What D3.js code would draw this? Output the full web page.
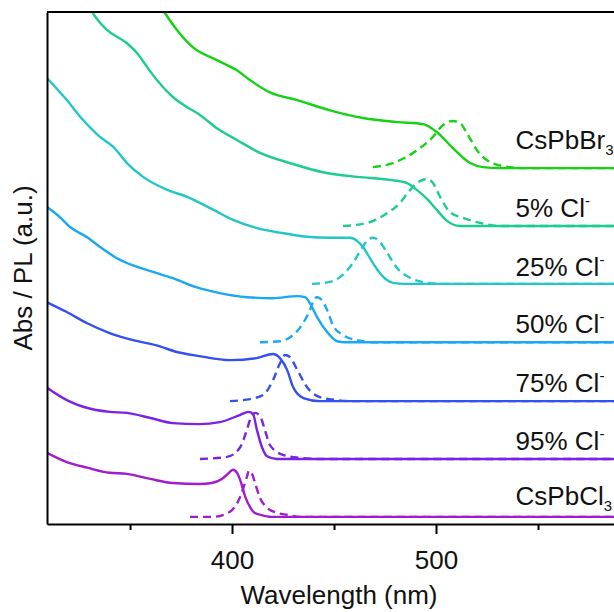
<!DOCTYPE html>
<html>
<head>
<meta charset="utf-8">
<script src="https://cdn.jsdelivr.net/npm/d3@7"></script>
<style>
  body { margin: 0; background: #fff; }
  text { font-family: "Liberation Sans", Arial, sans-serif; fill: #111; }
</style>
</head>
<body>
<div id="chart"></div>
<script>
var width = 614, height = 612;
var margin = {top: 12, right: -26, bottom: 88, left: 47};

// sample names, bottom to top
var sampleNames = ["CsPbCl3", "95% Cl", "75% Cl", "50% Cl", "25% Cl", "5% Cl", "CsPbBr3"];
var sampleColors = ["#a31ccc", "#7a22e6", "#3450ee", "#1aa8f5", "#21c6c6", "#1dcc94", "#14d214"];
// vertical stacking offset of each sample (a.u.)
var baselineOffsets = [0.14, 1.27, 2.40, 3.55, 4.69, 5.82, 6.95];
var labelLift = [0.23, 0.18, 0.18, 0.18, 0.16, 0.18, 0.38];
var labelWavelength = 539;

// absorption spectra [nm, a.u. above baseline]
var absCl3 = [[309.3,1.25],[319,1.07],[329,0.96],[340,0.86],[348.5,0.84],[360,0.74],[371,0.66],[384,0.64],[390,0.66],[395,0.74],[398,0.84],[400.5,0.92],[402.5,0.86],[404,0.72],[406.5,0.39],[409,0.18],[411,0.08],[414,0.04],[419,0],[600,0]];
var abs95 = [[309.3,1.39],[319,1.15],[327,1.02],[340,0.92],[348.5,0.90],[360,0.80],[371,0.70],[384,0.68],[394,0.72],[404,0.86],[408,0.92],[410.3,0.88],[412.2,0.57],[414.7,0.23],[417,0.06],[422,0],[600,0]];
var abs75 = [[309.3,1.93],[319,1.74],[329,1.52],[340,1.33],[351.5,1.19],[363,1.09],[373,0.96],[384,0.88],[399,0.80],[412,0.84],[420,0.92],[423.5,0.84],[427,0.61],[430,0.27],[435,0.06],[443,0],[600,0]];
var abs50 = [[309.3,2.64],[315.7,2.44],[320.6,2.25],[329,2.05],[335.3,1.86],[343.6,1.64],[351.5,1.50],[360,1.39],[371,1.25],[382.8,1.07],[394,0.96],[407.3,0.88],[420,0.86],[432,0.90],[435.8,0.88],[438.2,0.76],[441.7,0.49],[446.6,0.20],[451.5,0.02],[455.4,0],[600,0]];
var abs25 = [[309.3,4.02],[319,3.59],[327,3.20],[335.3,2.87],[341.7,2.68],[348.5,2.36],[356.4,2.09],[368,1.84],[378,1.70],[390.7,1.45],[400.5,1.25],[412.2,1.09],[423.5,1.00],[436.8,0.92],[448,0.90],[457.8,0.90],[461.3,0.84],[464.2,0.72],[469,0.41],[474,0.14],[479,0.02],[484.8,0],[600,0]];
var abs5 = [[328,4.45],[331.8,4.16],[338.7,3.83],[348.5,3.57],[353.4,3.38],[358.3,3.11],[363.2,2.85],[371,2.52],[378,2.32],[384.3,2.17],[392.6,1.91],[402.4,1.68],[413.7,1.43],[428.4,1.23],[444.6,1.05],[461.3,0.96],[477.4,0.90],[485.8,0.84],[490.7,0.70],[495.6,0.53],[500.5,0.31],[505.4,0.10],[511.8,0],[600,0]];
var absBr3 = [[363.7,3.25],[367.1,3.03],[373,2.70],[380.9,2.36],[392.6,2.11],[402.4,1.91],[408.8,1.72],[418.6,1.48],[431.9,1.33],[448,1.13],[464.2,0.98],[480.9,0.90],[493.6,0.86],[500.5,0.70],[508.3,0.39],[516.7,0.10],[523,0.02],[531.4,0],[600,0]];

// PL spectra [nm, a.u. above baseline]
var plCl3 = [[379.4,0],[390.7,0],[399,0.10],[404,0.39],[407.3,0.78],[408.3,0.90],[409.8,0.84],[411.3,0.66],[413.7,0.37],[417.1,0.18],[422,0.08],[427,0.04],[433.3,0],[600,0]];
var pl95 = [[384.3,0],[397.5,0.04],[404,0.23],[407.3,0.57],[408.8,0.76],[411.3,0.90],[413.7,0.84],[416.1,0.57],[418.6,0.27],[425,0.08],[433.3,0.02],[443,0],[600,0]];
var pl75 = [[399,0],[408.8,0.04],[415.2,0.12],[420.1,0.41],[423.5,0.74],[426,0.90],[428.4,0.86],[432,0.61],[436.8,0.27],[443,0.08],[451.5,0.02],[458,0],[600,0]];
var pl50 = [[413.7,0],[423.5,0.02],[429.9,0.14],[434.8,0.37],[438.2,0.63],[440.7,0.86],[441.7,0.88],[444.1,0.82],[446.6,0.63],[449.5,0.33],[454.4,0.14],[461.3,0.04],[469,0],[600,0]];
var pl25 = [[439.2,0],[448,0.04],[454.4,0.18],[459.3,0.41],[463.7,0.70],[466.7,0.86],[469.1,0.90],[472.5,0.82],[476,0.61],[480.9,0.31],[487.2,0.12],[495.6,0.02],[502,0],[600,0]];
var pl5 = [[454.4,0],[466.2,0.06],[476,0.25],[482.3,0.45],[487.2,0.70],[490.7,0.84],[495.6,0.92],[498.5,0.84],[502,0.57],[506.9,0.27],[513.2,0.16],[521.6,0.06],[531.4,0],[600,0]];
var plBr3 = [[469.1,0.02],[478.9,0.10],[490.7,0.35],[498.5,0.61],[503.4,0.84],[508.3,0.92],[511.8,0.88],[515.2,0.68],[520.1,0.35],[526.5,0.12],[536.3,0.02],[544.6,0],[600,0]];

var majorTicks = [400, 500];
var minorTicks = [350, 450, 550];

var absSpectra = [absCl3, abs95, abs75, abs50, abs25, abs5, absBr3];
var plSpectra = [plCl3, pl95, pl75, pl50, pl25, pl5, plBr3];

var svg = d3.select("#chart")
	.append("svg")
	.attr("width", width)
	.attr("height", height);

var x = d3.scaleLinear()
	.domain([309.3, 600])
	.range([margin.left, width - margin.right]);

var y = d3.scaleLinear()
	.domain([0, 10])
	.range([height - margin.bottom, margin.top]);

svg.append("clipPath").attr("id", "plot-clip")
	.append("rect")
	.attr("x", margin.left)
	.attr("y", margin.top)
	.attr("width", width - margin.right - margin.left)
	.attr("height", height - margin.bottom - margin.top);

var plot = svg.append("g").attr("clip-path", "url(#plot-clip)");

sampleNames.forEach(function(name, i) {
	var line = d3.line()
		.x(function(d) { return x(d[0]); })
		.y(function(d) { return y(d[1] + baselineOffsets[i]); })
		.curve(d3.curveMonotoneX);

	plot.append("path")
		.attr("d", line(absSpectra[i]))
		.attr("fill", "none")
		.attr("stroke", sampleColors[i])
		.attr("stroke-width", 2.4);

	plot.append("path")
		.attr("d", line(plSpectra[i]))
		.attr("fill", "none")
		.attr("stroke", sampleColors[i])
		.attr("stroke-width", 2.4)
		.attr("stroke-dasharray", "8,5");
});

// frame: top line and left axis
svg.append("line")
	.attr("x1", margin.left).attr("x2", width - margin.right)
	.attr("y1", margin.top).attr("y2", margin.top)
	.attr("stroke", "#000").attr("stroke-width", 2);

svg.append("g")
	.attr("transform", "translate(" + margin.left + ",0)")
	.call(d3.axisLeft(y).tickValues([]).tickSizeOuter(0))
	.select(".domain").attr("stroke-width", 2);

var xAxis = svg.append("g")
	.attr("transform", "translate(0," + (height - margin.bottom) + ")")
	.call(d3.axisBottom(x).tickValues(majorTicks).tickSize(10).tickSizeOuter(0).tickPadding(17));
xAxis.select(".domain").attr("stroke-width", 2);
xAxis.selectAll(".tick line").attr("stroke-width", 2);
xAxis.selectAll(".tick text")
	.style("font-family", "Liberation Sans, Arial, sans-serif")
	.style("font-size", "26px")
	.attr("fill", "#111");

svg.append("g")
	.attr("transform", "translate(0," + (height - margin.bottom) + ")")
	.call(d3.axisBottom(x).tickValues(minorTicks).tickSize(6).tickSizeOuter(0).tickFormat(""))
	.call(function(g) { g.select(".domain").remove(); })
	.selectAll(".tick line").attr("stroke-width", 2);

svg.append("text")
	.text("Wavelength (nm)")
	.attr("x", 339)
	.attr("y", 604)
	.attr("text-anchor", "middle")
	.style("font-size", "26px");

svg.append("text")
	.text("Abs / PL (a.u.)")
	.attr("transform", "translate(32," + ((margin.top + height - margin.bottom) / 2) + ") rotate(-90)")
	.attr("text-anchor", "middle")
	.style("font-size", "26px");

// sample labels
sampleNames.forEach(function(name, i) {
	var t = svg.append("text")
		.attr("x", x(labelWavelength))
		.attr("y", y(baselineOffsets[i] + labelLift[i]))
		.style("font-size", "26px");
	if (name.slice(-1) == "3") {
		t.append("tspan").text(name.slice(0, -1));
		t.append("tspan").text("3").attr("dy", 6).style("font-size", "15px");
	} else {
		t.append("tspan").text(name);
		t.append("tspan").text("-").attr("dy", -11).style("font-size", "15px");
	}
});
</script>
</body>
</html>
